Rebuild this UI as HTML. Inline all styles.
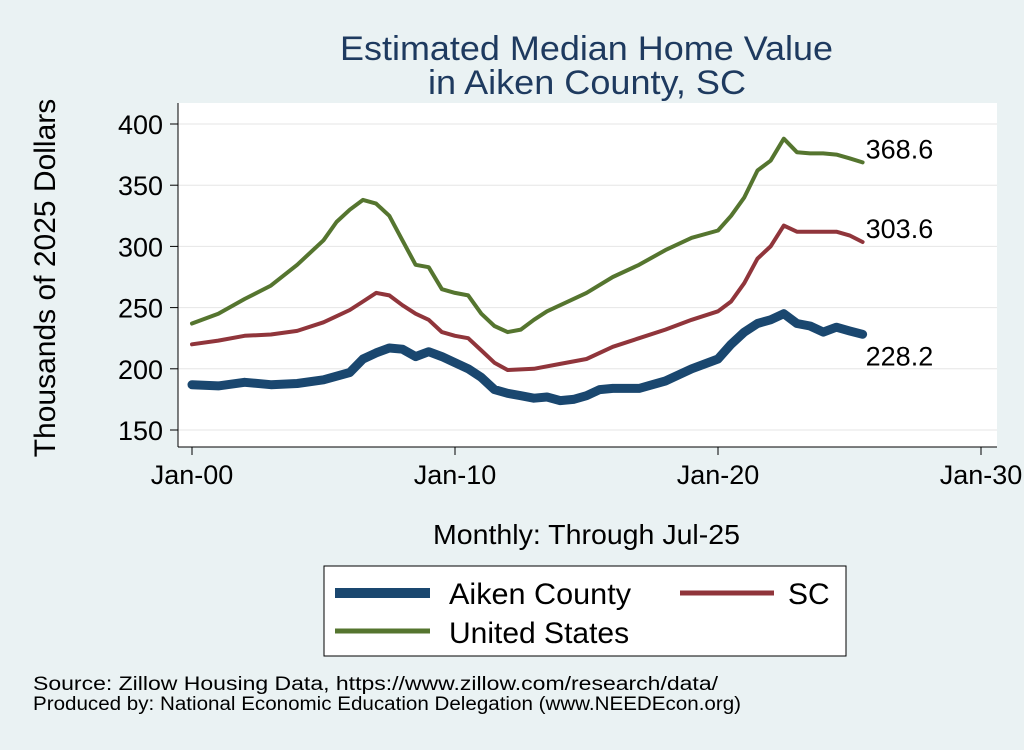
<!DOCTYPE html>
<html><head><meta charset="utf-8"><style>
body{margin:0;background:#eaf2f3;font-family:"Liberation Sans",sans-serif;}
svg text{font-family:"Liberation Sans",sans-serif;}
</style></head><body>
<svg width="1024" height="745" viewBox="0 0 1024 745">
<rect x="0" y="0" width="1024" height="745" fill="#eaf2f3"/>
<rect x="178" y="103" width="819" height="344" fill="#ffffff"/>
<text x="340" y="60" font-size="34" textLength="493" lengthAdjust="spacingAndGlyphs" fill="#1e3a5f">Estimated Median Home Value</text>
<text x="428" y="94" font-size="34" textLength="318" lengthAdjust="spacingAndGlyphs" fill="#1e3a5f">in Aiken County, SC</text>
<g id="grid"></g><g id="axes"></g><g id="series"></g>
<text transform="translate(55,278) rotate(-90)" font-size="30" text-anchor="middle" fill="#000">Thousands of 2025 Dollars</text>
<text x="433" y="544" font-size="28" textLength="307" lengthAdjust="spacingAndGlyphs" fill="#000">Monthly: Through Jul-25</text>
<g>
<rect x="324" y="566" width="522" height="90" fill="#fff" stroke="#000" stroke-width="1"/>
<line x1="335" y1="593" x2="430" y2="593" stroke="#1a476f" stroke-width="10"/>
<text x="449" y="604" font-size="30" textLength="182" lengthAdjust="spacingAndGlyphs">Aiken County</text>
<line x1="680" y1="593" x2="774" y2="593" stroke="#90353b" stroke-width="5"/>
<text x="788" y="604" font-size="30">SC</text>
<line x1="335" y1="631" x2="430" y2="631" stroke="#55752f" stroke-width="5"/>
<text x="449" y="643" font-size="30">United States</text>
</g>
<text x="33" y="690" font-size="19" textLength="685" lengthAdjust="spacingAndGlyphs">Source: Zillow Housing Data, https://www.zillow.com/research/data/</text>
<text x="33" y="710" font-size="19" textLength="708" lengthAdjust="spacingAndGlyphs">Produced by: National Economic Education Delegation (www.NEEDEcon.org)</text>
</svg>
<script>
const yTicks=[150,200,250,300,350,400];
const xTicks=[2000,2010,2020,2030];
const xTickLabels=["Jan-00","Jan-10","Jan-20","Jan-30"];
const usYears=[2000,2001,2002,2003,2004,2005,2005.5,2006,2006.5,2007,2007.5,2008,2008.5,2009,2009.5,2010,2010.5,2011,2011.5,2012,2012.5,2013,2013.5,2014,2015,2016,2017,2018,2019,2020,2020.5,2021,2021.5,2022,2022.5,2023,2023.5,2024,2024.5,2025,2025.5];
const usValues=[237,245,257,268,285,305,320,330,338,335,325,305,285,283,265,262,260,245,235,230,232,240,247,252,262,275,285,297,307,313,325,340,362,370,388,377,376,376,375,372,368.6];
const scYears=[2000,2001,2002,2003,2004,2005,2005.5,2006,2006.5,2007,2007.5,2008,2008.5,2009,2009.5,2010,2010.5,2011,2011.5,2012,2013,2014,2015,2016,2017,2018,2019,2020,2020.5,2021,2021.5,2022,2022.5,2023,2024,2024.5,2025,2025.5];
const scValues=[220,223,227,228,231,238,243,248,255,262,260,252,245,240,230,227,225,215,205,199,200,204,208,218,225,232,240,247,255,270,290,300,317,312,312,312,309,303.6];
const aikenYears=[2000,2001,2002,2003,2004,2005,2006,2006.5,2007,2007.5,2008,2008.5,2009,2009.5,2010,2010.5,2011,2011.5,2012,2012.5,2013,2013.5,2014,2014.5,2015,2015.5,2016,2017,2018,2019,2020,2020.5,2021,2021.5,2022,2022.5,2023,2023.5,2024,2024.5,2025,2025.5];
const aikenValues=[187,186,189,187,188,191,197,208,213,217,216,210,214,210,205,200,193,183,180,178,176,177,174,175,178,183,184,184,190,200,208,220,230,237,240,245,237,235,230,234,231,228.2];
const NS="http://www.w3.org/2000/svg";
const xS=t=>192+(t-2000)*26.3;
const yS=v=>430-(v-150)*1.224;
function mk(tag,attrs,parent,txt){const e=document.createElementNS(NS,tag);for(const k in attrs)e.setAttribute(k,attrs[k]);if(txt!==undefined)e.textContent=txt;parent.appendChild(e);return e;}
const grid=document.getElementById('grid'),axes=document.getElementById('axes'),ser=document.getElementById('series');
mk('line',{x1:178,y1:103,x2:178,y2:447,stroke:'#000','stroke-width':1},axes);
mk('line',{x1:178,y1:447,x2:997,y2:447,stroke:'#000','stroke-width':1},axes);
yTicks.forEach(v=>{
 const g=mk('line',{x1:178,x2:997,y1:yS(v),y2:yS(v),stroke:'#e6e6e6','stroke-width':1},grid);
 
 
 mk('line',{x1:170,x2:178,y1:yS(v),y2:yS(v),stroke:'#000'},axes);
 const t=mk('text',{x:163,y:yS(v)+10,'font-size':27,'text-anchor':'end'},axes,String(v));
 
 
});
xTicks.forEach((v,i)=>{
 mk('line',{x1:xS(v),x2:xS(v),y1:447,y2:455,stroke:'#000'},axes);
 const t=mk('text',{x:xS(v),y:484,'font-size':27,'text-anchor':'middle'},axes,xTickLabels[i]);
 
 
});
function line(xs,vs,color,w,name){
 const d=xs.map((x,i)=>(i?'L':'M')+xS(x).toFixed(1)+','+yS(vs[i]).toFixed(1)).join(' ');
 const p=mk('path',{d:d,fill:'none',stroke:color,'stroke-width':w,'stroke-linejoin':'round','stroke-linecap':'round'},ser);
 
 
 const last=vs[vs.length-1];
 const t=mk('text',{x:xS(xs[xs.length-1])+3,y:yS(last)+(name==='aiken-line'?31:-4),'font-size':27},ser,last.toFixed(1));
 
 
}
line(usYears,usValues,'#55752f',4,'us-line');
line(scYears,scValues,'#90353b',4,'sc-line');
line(aikenYears,aikenValues,'#1a476f',9,'aiken-line');
</script>
</body></html>
